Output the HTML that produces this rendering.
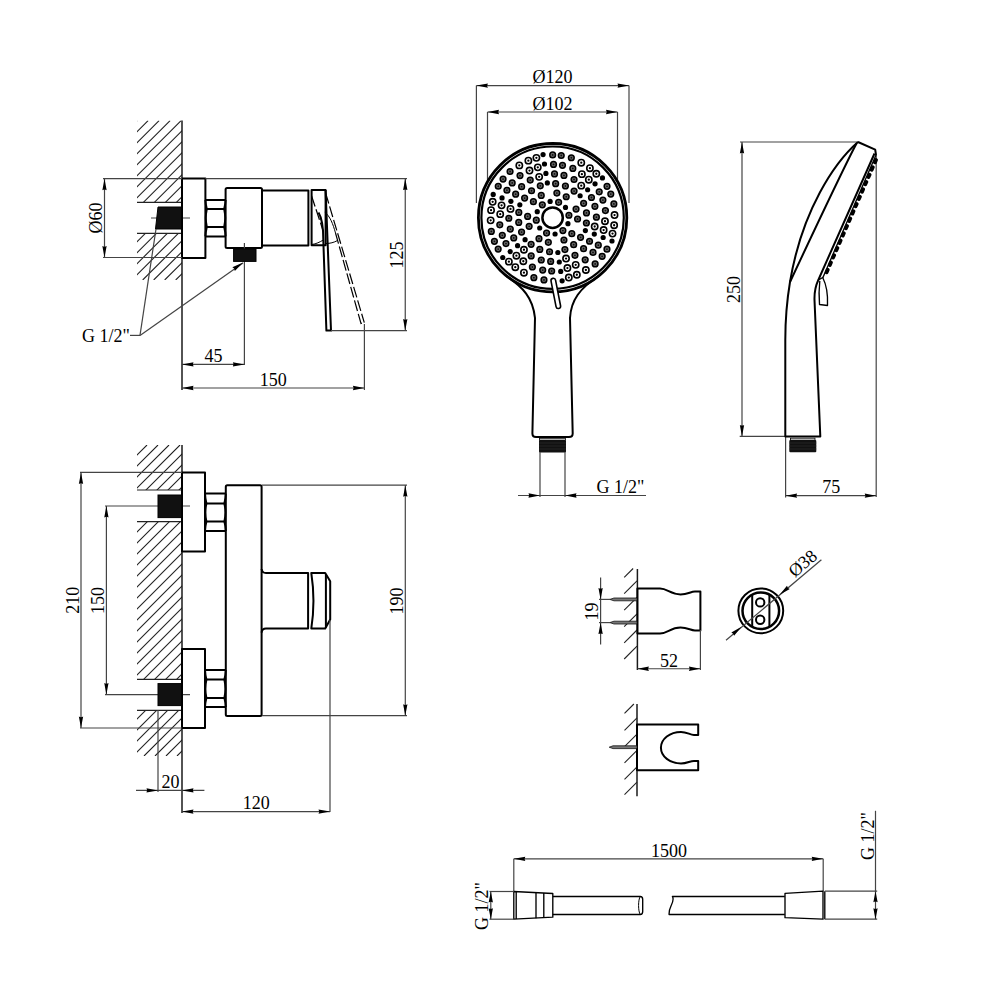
<!DOCTYPE html>
<html><head><meta charset="utf-8"><style>
html,body{margin:0;padding:0;background:#fff;width:1000px;height:1000px;overflow:hidden}
svg{display:block}
text{font-family:"Liberation Serif",serif;font-size:18px;fill:#000}
.d{stroke:#444;stroke-width:1.2;fill:none}
.w{stroke:#1a1a1a;stroke-width:1.5;fill:none}
.h{stroke:#222;stroke-width:1.1;fill:none}
.o{stroke:#000;stroke-width:2;fill:none;stroke-linejoin:round}
.o2{stroke:#000;stroke-width:1.35;fill:none;stroke-linejoin:round}
.thin{stroke:#000;stroke-width:1;fill:none}
.ds{stroke:#000;stroke-width:1.2;fill:none;stroke-dasharray:11 3}
.k{fill:#111;stroke:#000;stroke-width:1}
.a{fill:#000;stroke:none}
</style></head>
<body><svg width="1000" height="1000" viewBox="0 0 1000 1000">
<clipPath id="h1"><rect x="137" y="120.6" width="45" height="81.8"/><rect x="137" y="233.4" width="45" height="46.6"/></clipPath>
<path class="h" clip-path="url(#h1)" d="M-22.3,280L137.1,120.6M-11.3,280L148.1,120.6M-0.3,280L159.1,120.6M10.7,280L170.1,120.6M21.7,280L181.1,120.6M32.7,280L192.1,120.6M43.7,280L203.1,120.6M54.7,280L214.1,120.6M65.7,280L225.1,120.6M76.7,280L236.1,120.6M87.7,280L247.1,120.6M98.7,280L258.1,120.6M109.7,280L269.1,120.6M120.7,280L280.1,120.6M131.7,280L291.1,120.6M142.7,280L302.1,120.6M153.7,280L313.1,120.6M164.7,280L324.1,120.6M175.7,280L335.1,120.6"/>
<line class="h" x1="137" y1="202.4" x2="182" y2="202.4"/>
<line class="h" x1="137" y1="233.4" x2="182" y2="233.4"/>
<line class="w" x1="182" y1="120.5" x2="182" y2="390"/>
<line class="d" x1="151" y1="218" x2="190" y2="218"/>
<path class="k" d="M158,207 L182,207 L182,229 L155.5,229 Z"/>
<rect class="o" x="182" y="178.4" width="23.4" height="79.6"/>
<path class="o" d="M205.4,200 L225.6,200 M205.4,209 L225.6,209 M205.4,227 L225.6,227 M205.4,236.4 L225.6,236.4"/>
<path class="o" d="M205.4,200 Q205.6,204.5 206.8,209 Q204.8,218 206.8,227 Q205.6,231.7 205.4,236.4"/>
<path class="o" d="M225.6,200 Q225.4,204.5 224.2,209 Q226.2,218 224.2,227 Q225.4,231.7 225.6,236.4"/>
<rect class="o" x="225.6" y="188" width="36.4" height="60" rx="1.5"/>
<rect class="o" x="262" y="190.6" width="46.4" height="55"/>
<rect class="o" x="311.6" y="190" width="14" height="55.2"/>
<line class="d" x1="244.4" y1="243" x2="244.4" y2="365"/>
<rect class="k" x="233.6" y="249" width="22.4" height="12.4"/>
<path class="o" d="M325.6,190 L331,330.6 L326.4,330.6 L323.3,240 C323.3,228 322,218 318.5,212.5"/>
<path class="ds" d="M325.6,193 L364.3,322.6"/>
<path class="ds" d="M335.5,233 L361,323.5 L364.3,322.6"/>
<path class="thin" d="M324.8,212.4 C330,216 333,224 335.5,233"/>
<path class="ds" d="M311.6,196 L323.2,231"/>
<path class="thin" d="M311.8,244.5 C316,244 320,242 323.3,240"/>
<path class="thin" d="M326,243.5 C330,243.5 334,242.5 337.5,240.5"/>
<line class="d" x1="103" y1="178.6" x2="182" y2="178.6"/>
<line class="d" x1="205.4" y1="178.6" x2="407" y2="178.6"/>
<line class="d" x1="103" y1="257.5" x2="182" y2="257.5"/>
<line class="d" x1="104.5" y1="178.8" x2="104.5" y2="257.5"/>
<path class="a" d="M104.5,178.8 L106.65,190.3 Q104.5,188.92 102.35,190.3 Z"/>
<path class="a" d="M104.5,257.5 L102.35,246 Q104.5,247.38 106.65,246 Z"/>
<text transform="translate(101.7,218) rotate(-90)" x="0" y="0" text-anchor="middle">Ø60</text>
<line class="d" x1="405.25" y1="178.6" x2="405.25" y2="330.6"/>
<path class="a" d="M405.25,178.6 L407.4,190.1 Q405.25,188.72 403.1,190.1 Z"/>
<path class="a" d="M405.25,330.6 L403.1,319.1 Q405.25,320.48 407.4,319.1 Z"/>
<line class="d" x1="331" y1="330.6" x2="407" y2="330.6"/>
<text transform="translate(402.5,255) rotate(-90)" x="0" y="0" text-anchor="middle">125</text>
<line class="d" x1="130" y1="335.4" x2="140" y2="335.4"/>
<line class="d" x1="140" y1="335.4" x2="156" y2="229"/>
<line class="d" x1="140" y1="335.4" x2="243" y2="263"/>
<path class="a" d="M243,262.5 L234.83,270.88 Q234.72,268.32 232.36,267.36 Z"/>
<text x="82" y="342.2" text-anchor="start">G 1/2"</text>
<line class="d" x1="182" y1="364.4" x2="244.4" y2="364.4"/>
<path class="a" d="M182,364.4 L193.5,362.25 Q192.12,364.4 193.5,366.55 Z"/>
<path class="a" d="M244.4,364.4 L232.9,366.55 Q234.28,364.4 232.9,362.25 Z"/>
<text x="213.4" y="362.2" text-anchor="middle">45</text>
<line class="d" x1="182" y1="388" x2="364.4" y2="388"/>
<path class="a" d="M182,388 L193.5,385.85 Q192.12,388 193.5,390.15 Z"/>
<path class="a" d="M364.4,388 L352.9,390.15 Q354.28,388 352.9,385.85 Z"/>
<line class="d" x1="364.4" y1="324" x2="364.4" y2="390"/>
<text x="273.3" y="386.3" text-anchor="middle">150</text>
<clipPath id="h2"><rect x="137" y="445" width="45" height="45"/><rect x="137" y="521.6" width="45" height="157.8"/><rect x="137" y="710.4" width="45" height="45.6"/></clipPath>
<path class="h" clip-path="url(#h2)" d="M-164,756L147,445M-153,756L158,445M-142,756L169,445M-131,756L180,445M-120,756L191,445M-109,756L202,445M-98,756L213,445M-87,756L224,445M-76,756L235,445M-65,756L246,445M-54,756L257,445M-43,756L268,445M-32,756L279,445M-21,756L290,445M-10,756L301,445M1,756L312,445M12,756L323,445M23,756L334,445M34,756L345,445M45,756L356,445M56,756L367,445M67,756L378,445M78,756L389,445M89,756L400,445M100,756L411,445M111,756L422,445M122,756L433,445M133,756L444,445M144,756L455,445M155,756L466,445M166,756L477,445M177,756L488,445"/>
<line class="h" x1="137" y1="490" x2="182" y2="490"/>
<line class="h" x1="137" y1="521.6" x2="182" y2="521.6"/>
<line class="h" x1="137" y1="679.4" x2="182" y2="679.4"/>
<line class="h" x1="137" y1="710.4" x2="182" y2="710.4"/>
<line class="w" x1="182" y1="445" x2="182" y2="813"/>
<line class="d" x1="105" y1="506" x2="190" y2="506"/>
<rect class="k" x="158" y="495" width="24" height="22.6"/>
<rect class="o" x="182" y="472.4" width="23" height="79.2"/>
<path class="o" d="M205,493.6 L225.8,493.6 M205,503.6 L225.8,503.6 M205,521.6 L225.8,521.6 M205,531 L225.8,531"/>
<path class="o" d="M205,493.6 Q205.2,498.6 206.4,503.6 Q204.4,512.6 206.4,521.6 Q205.2,526.3 205,531"/>
<path class="o" d="M225.8,493.6 Q225.6,498.6 224.4,503.6 Q226.4,512.6 224.4,521.6 Q225.6,526.3 225.8,531"/>
<line class="d" x1="105" y1="694.6" x2="190" y2="694.6"/>
<rect class="k" x="158" y="683.6" width="24" height="22"/>
<rect class="o" x="182" y="649" width="23" height="79"/>
<path class="o" d="M205,670 L225.8,670 M205,679.6 L225.8,679.6 M205,698 L225.8,698 M205,707 L225.8,707"/>
<path class="o" d="M205,670 Q205.2,674.8 206.4,679.6 Q204.4,688.8 206.4,698 Q205.2,702.5 205,707"/>
<path class="o" d="M225.8,670 Q225.6,674.8 224.4,679.6 Q226.4,688.8 224.4,698 Q225.6,702.5 225.8,707"/>
<rect class="o" x="225.8" y="485.2" width="35.8" height="230.8" rx="1.5"/>
<path class="o" d="M261.6,569 Q262,573 266,573 L308.1,573 L308.1,628.6 L266,628.6 Q262,628.6 261.6,632.6"/>
<path class="o" d="M311.3,573 L325.2,573 L330.2,581.2 L330.2,619.4 L325.2,628.6 L311.3,628.6 Q315.6,600.8 311.3,573 Z"/>
<line class="o" x1="325.9" y1="574" x2="325.9" y2="627.6"/>
<line class="d" x1="330" y1="620" x2="330" y2="812"/>
<line class="d" x1="80" y1="472.4" x2="182" y2="472.4"/>
<line class="d" x1="80" y1="728" x2="182" y2="728"/>
<line class="d" x1="81" y1="472.4" x2="81" y2="728"/>
<path class="a" d="M81,472.4 L83.15,483.9 Q81,482.52 78.85,483.9 Z"/>
<path class="a" d="M81,728 L78.85,716.5 Q81,717.88 83.15,716.5 Z"/>
<text transform="translate(78.7,600.3) rotate(-90)" x="0" y="0" text-anchor="middle">210</text>
<line class="d" x1="106.4" y1="506" x2="106.4" y2="694.6"/>
<path class="a" d="M106.4,506 L108.55,517.5 Q106.4,516.12 104.25,517.5 Z"/>
<path class="a" d="M106.4,694.6 L104.25,683.1 Q106.4,684.48 108.55,683.1 Z"/>
<text transform="translate(103.9,600.5) rotate(-90)" x="0" y="0" text-anchor="middle">150</text>
<line class="d" x1="262" y1="485.2" x2="407" y2="485.2"/>
<line class="d" x1="262" y1="715.7" x2="407" y2="715.7"/>
<line class="d" x1="405.3" y1="485.2" x2="405.3" y2="715.7"/>
<path class="a" d="M405.3,485.2 L407.45,496.7 Q405.3,495.32 403.15,496.7 Z"/>
<path class="a" d="M405.3,715.7 L403.15,704.2 Q405.3,705.58 407.45,704.2 Z"/>
<text transform="translate(403,600.9) rotate(-90)" x="0" y="0" text-anchor="middle">190</text>
<line class="d" x1="158" y1="710" x2="158" y2="792"/>
<line class="d" x1="136" y1="790.4" x2="204.4" y2="790.4"/>
<path class="a" d="M158,790.4 L146.5,792.55 Q147.88,790.4 146.5,788.25 Z"/>
<path class="a" d="M182,790.4 L193.5,788.25 Q192.12,790.4 193.5,792.55 Z"/>
<text x="170.6" y="788.1" text-anchor="middle">20</text>
<line class="d" x1="182" y1="811.6" x2="330" y2="811.6"/>
<path class="a" d="M182,811.6 L193.5,809.45 Q192.12,811.6 193.5,813.75 Z"/>
<path class="a" d="M330,811.6 L318.5,813.75 Q319.88,811.6 318.5,809.45 Z"/>
<text x="256.3" y="809.1" text-anchor="middle">120</text>
<line class="d" x1="476.4" y1="85.6" x2="476.4" y2="203"/>
<line class="d" x1="629" y1="85.6" x2="629" y2="203"/>
<line class="d" x1="476.4" y1="85.6" x2="629" y2="85.6"/>
<path class="a" d="M476.4,85.6 L487.9,83.45 Q486.52,85.6 487.9,87.75 Z"/>
<path class="a" d="M629,85.6 L617.5,87.75 Q618.88,85.6 617.5,83.45 Z"/>
<text x="552.5" y="83.3" text-anchor="middle">Ø120</text>
<line class="d" x1="487.5" y1="112" x2="487.5" y2="207"/>
<line class="d" x1="617.5" y1="112" x2="617.5" y2="207"/>
<line class="d" x1="487.5" y1="112" x2="617.5" y2="112"/>
<path class="a" d="M487.5,112 L499,109.85 Q497.62,112 499,114.15 Z"/>
<path class="a" d="M617.5,112 L606,114.15 Q607.38,112 606,109.85 Z"/>
<text x="552.5" y="109.8" text-anchor="middle">Ø102</text>
<circle class="o" cx="552.6" cy="217.7" r="74.2" style="stroke-width:2.8;fill:#fff"/>
<circle class="o" cx="552.6" cy="217.7" r="71.2" style="stroke-width:2.2"/>
<path class="o" d="M506,276 C523,287 533,298 535,318 L532.4,433.5 Q532.4,437 536,437 L569,437 Q572.7,437 572.7,433.5 L570,318 C571,300 580,288 599,276"/>
<circle cx="550.13" cy="201.39" r="2.6" fill="#000"/>
<circle cx="542.31" cy="204.8" r="2.85" fill="#666" stroke="#000" stroke-width="1.5"/><circle cx="542.31" cy="204.8" r="0.9" fill="#111"/>
<circle cx="565.5" cy="207.41" r="2.6" fill="#000"/>
<circle cx="558.62" cy="202.34" r="2.85" fill="#666" stroke="#000" stroke-width="1.5"/><circle cx="558.62" cy="202.34" r="0.9" fill="#111"/>
<circle cx="567.96" cy="223.72" r="2.6" fill="#000"/>
<circle cx="568.91" cy="215.23" r="2.85" fill="#666" stroke="#000" stroke-width="1.5"/><circle cx="568.91" cy="215.23" r="0.9" fill="#111"/>
<circle cx="555.07" cy="234.01" r="2.6" fill="#000"/>
<circle cx="562.89" cy="230.6" r="2.85" fill="#666" stroke="#000" stroke-width="1.5"/><circle cx="562.89" cy="230.6" r="0.9" fill="#111"/>
<circle cx="539.7" cy="227.99" r="2.6" fill="#000"/>
<circle cx="546.58" cy="233.06" r="2.85" fill="#666" stroke="#000" stroke-width="1.5"/><circle cx="546.58" cy="233.06" r="0.9" fill="#111"/>
<circle cx="537.24" cy="211.68" r="2.6" fill="#000"/>
<circle cx="536.29" cy="220.17" r="2.85" fill="#666" stroke="#000" stroke-width="1.5"/><circle cx="536.29" cy="220.17" r="0.9" fill="#111"/>
<circle cx="556.86" cy="193.06" r="2.85" fill="#666" stroke="#000" stroke-width="1.5"/><circle cx="556.86" cy="193.06" r="0.9" fill="#111"/>
<circle cx="566.22" cy="196.73" r="2.85" fill="#666" stroke="#000" stroke-width="1.5"/><circle cx="566.22" cy="196.73" r="0.9" fill="#111"/>
<circle cx="576.06" cy="209.07" r="2.85" fill="#666" stroke="#000" stroke-width="1.5"/><circle cx="576.06" cy="209.07" r="0.9" fill="#111"/>
<circle cx="577.57" cy="219.01" r="2.85" fill="#666" stroke="#000" stroke-width="1.5"/><circle cx="577.57" cy="219.01" r="0.9" fill="#111"/>
<circle cx="571.81" cy="233.7" r="2.85" fill="#666" stroke="#000" stroke-width="1.5"/><circle cx="571.81" cy="233.7" r="0.9" fill="#111"/>
<circle cx="563.95" cy="239.98" r="2.85" fill="#666" stroke="#000" stroke-width="1.5"/><circle cx="563.95" cy="239.98" r="0.9" fill="#111"/>
<circle cx="548.34" cy="242.34" r="2.85" fill="#666" stroke="#000" stroke-width="1.5"/><circle cx="548.34" cy="242.34" r="0.9" fill="#111"/>
<circle cx="538.98" cy="238.67" r="2.85" fill="#666" stroke="#000" stroke-width="1.5"/><circle cx="538.98" cy="238.67" r="0.9" fill="#111"/>
<circle cx="529.14" cy="226.33" r="2.85" fill="#666" stroke="#000" stroke-width="1.5"/><circle cx="529.14" cy="226.33" r="0.9" fill="#111"/>
<circle cx="527.63" cy="216.39" r="2.85" fill="#666" stroke="#000" stroke-width="1.5"/><circle cx="527.63" cy="216.39" r="0.9" fill="#111"/>
<circle cx="533.39" cy="201.7" r="2.85" fill="#666" stroke="#000" stroke-width="1.5"/><circle cx="533.39" cy="201.7" r="0.9" fill="#111"/>
<circle cx="541.25" cy="195.42" r="2.85" fill="#666" stroke="#000" stroke-width="1.5"/><circle cx="541.25" cy="195.42" r="0.9" fill="#111"/>
<circle cx="547.34" cy="182.9" r="2.6" fill="#000"/>
<circle cx="540.29" cy="185.79" r="2.85" fill="#666" stroke="#000" stroke-width="1.5"/><circle cx="540.29" cy="185.79" r="0.9" fill="#111"/>
<circle cx="531.54" cy="190.75" r="2.85" fill="#666" stroke="#000" stroke-width="1.5"/><circle cx="531.54" cy="190.75" r="0.9" fill="#111"/>
<circle cx="524.62" cy="198.03" r="2.85" fill="#666" stroke="#000" stroke-width="1.5"/><circle cx="524.62" cy="198.03" r="0.9" fill="#111"/>
<circle cx="580.11" cy="195.74" r="2.6" fill="#000"/>
<circle cx="574.07" cy="191.08" r="2.85" fill="#666" stroke="#000" stroke-width="1.5"/><circle cx="574.07" cy="191.08" r="0.9" fill="#111"/>
<circle cx="565.41" cy="185.99" r="2.85" fill="#666" stroke="#000" stroke-width="1.5"/><circle cx="565.41" cy="185.99" r="0.9" fill="#111"/>
<circle cx="555.64" cy="183.64" r="2.85" fill="#666" stroke="#000" stroke-width="1.5"/><circle cx="555.64" cy="183.64" r="0.9" fill="#111"/>
<circle cx="585.37" cy="230.54" r="2.6" fill="#000"/>
<circle cx="586.39" cy="222.99" r="2.85" fill="#666" stroke="#000" stroke-width="1.5"/><circle cx="586.39" cy="222.99" r="0.9" fill="#111"/>
<circle cx="586.47" cy="212.94" r="2.85" fill="#666" stroke="#000" stroke-width="1.5"/><circle cx="586.47" cy="212.94" r="0.9" fill="#111"/>
<circle cx="583.62" cy="203.3" r="2.85" fill="#666" stroke="#000" stroke-width="1.5"/><circle cx="583.62" cy="203.3" r="0.9" fill="#111"/>
<circle cx="557.86" cy="252.5" r="2.6" fill="#000"/>
<circle cx="564.91" cy="249.61" r="2.85" fill="#666" stroke="#000" stroke-width="1.5"/><circle cx="564.91" cy="249.61" r="0.9" fill="#111"/>
<circle cx="573.66" cy="244.65" r="2.85" fill="#666" stroke="#000" stroke-width="1.5"/><circle cx="573.66" cy="244.65" r="0.9" fill="#111"/>
<circle cx="580.58" cy="237.37" r="2.85" fill="#666" stroke="#000" stroke-width="1.5"/><circle cx="580.58" cy="237.37" r="0.9" fill="#111"/>
<circle cx="525.09" cy="239.66" r="2.6" fill="#000"/>
<circle cx="531.13" cy="244.32" r="2.85" fill="#666" stroke="#000" stroke-width="1.5"/><circle cx="531.13" cy="244.32" r="0.9" fill="#111"/>
<circle cx="539.79" cy="249.41" r="2.85" fill="#666" stroke="#000" stroke-width="1.5"/><circle cx="539.79" cy="249.41" r="0.9" fill="#111"/>
<circle cx="549.56" cy="251.76" r="2.85" fill="#666" stroke="#000" stroke-width="1.5"/><circle cx="549.56" cy="251.76" r="0.9" fill="#111"/>
<circle cx="519.83" cy="204.86" r="2.6" fill="#000"/>
<circle cx="518.81" cy="212.41" r="2.85" fill="#666" stroke="#000" stroke-width="1.5"/><circle cx="518.81" cy="212.41" r="0.9" fill="#111"/>
<circle cx="518.73" cy="222.46" r="2.85" fill="#666" stroke="#000" stroke-width="1.5"/><circle cx="518.73" cy="222.46" r="0.9" fill="#111"/>
<circle cx="521.58" cy="232.1" r="2.85" fill="#666" stroke="#000" stroke-width="1.5"/><circle cx="521.58" cy="232.1" r="0.9" fill="#111"/>
<circle cx="545.9" cy="173.4" r="2.6" fill="#000"/>
<circle cx="539.16" cy="176.85" r="3.15" fill="#fff" stroke="#000" stroke-width="1.6"/><circle cx="539.16" cy="176.85" r="1.15" fill="#000"/>
<circle cx="530.23" cy="180.04" r="2.85" fill="#666" stroke="#000" stroke-width="1.5"/><circle cx="530.23" cy="180.04" r="0.9" fill="#111"/>
<circle cx="521.63" cy="186.72" r="2.85" fill="#666" stroke="#000" stroke-width="1.5"/><circle cx="521.63" cy="186.72" r="0.9" fill="#111"/>
<circle cx="515.66" cy="194.16" r="2.85" fill="#666" stroke="#000" stroke-width="1.5"/><circle cx="515.66" cy="194.16" r="0.9" fill="#111"/>
<circle cx="587.61" cy="189.75" r="2.6" fill="#000"/>
<circle cx="581.25" cy="185.64" r="3.15" fill="#fff" stroke="#000" stroke-width="1.6"/><circle cx="581.25" cy="185.64" r="1.15" fill="#000"/>
<circle cx="574.03" cy="179.5" r="2.85" fill="#666" stroke="#000" stroke-width="1.5"/><circle cx="574.03" cy="179.5" r="0.9" fill="#111"/>
<circle cx="563.94" cy="175.39" r="2.85" fill="#666" stroke="#000" stroke-width="1.5"/><circle cx="563.94" cy="175.39" r="0.9" fill="#111"/>
<circle cx="554.52" cy="173.94" r="2.85" fill="#666" stroke="#000" stroke-width="1.5"/><circle cx="554.52" cy="173.94" r="0.9" fill="#111"/>
<circle cx="594.31" cy="234.05" r="2.6" fill="#000"/>
<circle cx="594.69" cy="226.49" r="3.15" fill="#fff" stroke="#000" stroke-width="1.6"/><circle cx="594.69" cy="226.49" r="1.15" fill="#000"/>
<circle cx="596.4" cy="217.16" r="2.85" fill="#666" stroke="#000" stroke-width="1.5"/><circle cx="596.4" cy="217.16" r="0.9" fill="#111"/>
<circle cx="594.91" cy="206.37" r="2.85" fill="#666" stroke="#000" stroke-width="1.5"/><circle cx="594.91" cy="206.37" r="0.9" fill="#111"/>
<circle cx="591.46" cy="197.48" r="2.85" fill="#666" stroke="#000" stroke-width="1.5"/><circle cx="591.46" cy="197.48" r="0.9" fill="#111"/>
<circle cx="559.3" cy="262" r="2.6" fill="#000"/>
<circle cx="566.04" cy="258.55" r="3.15" fill="#fff" stroke="#000" stroke-width="1.6"/><circle cx="566.04" cy="258.55" r="1.15" fill="#000"/>
<circle cx="574.97" cy="255.36" r="2.85" fill="#666" stroke="#000" stroke-width="1.5"/><circle cx="574.97" cy="255.36" r="0.9" fill="#111"/>
<circle cx="583.57" cy="248.68" r="2.85" fill="#666" stroke="#000" stroke-width="1.5"/><circle cx="583.57" cy="248.68" r="0.9" fill="#111"/>
<circle cx="589.54" cy="241.24" r="2.85" fill="#666" stroke="#000" stroke-width="1.5"/><circle cx="589.54" cy="241.24" r="0.9" fill="#111"/>
<circle cx="517.59" cy="245.65" r="2.6" fill="#000"/>
<circle cx="523.95" cy="249.76" r="3.15" fill="#fff" stroke="#000" stroke-width="1.6"/><circle cx="523.95" cy="249.76" r="1.15" fill="#000"/>
<circle cx="531.17" cy="255.9" r="2.85" fill="#666" stroke="#000" stroke-width="1.5"/><circle cx="531.17" cy="255.9" r="0.9" fill="#111"/>
<circle cx="541.26" cy="260.01" r="2.85" fill="#666" stroke="#000" stroke-width="1.5"/><circle cx="541.26" cy="260.01" r="0.9" fill="#111"/>
<circle cx="550.68" cy="261.46" r="2.85" fill="#666" stroke="#000" stroke-width="1.5"/><circle cx="550.68" cy="261.46" r="0.9" fill="#111"/>
<circle cx="510.89" cy="201.35" r="2.6" fill="#000"/>
<circle cx="510.51" cy="208.91" r="3.15" fill="#fff" stroke="#000" stroke-width="1.6"/><circle cx="510.51" cy="208.91" r="1.15" fill="#000"/>
<circle cx="508.8" cy="218.24" r="2.85" fill="#666" stroke="#000" stroke-width="1.5"/><circle cx="508.8" cy="218.24" r="0.9" fill="#111"/>
<circle cx="510.29" cy="229.03" r="2.85" fill="#666" stroke="#000" stroke-width="1.5"/><circle cx="510.29" cy="229.03" r="0.9" fill="#111"/>
<circle cx="513.74" cy="237.92" r="2.85" fill="#666" stroke="#000" stroke-width="1.5"/><circle cx="513.74" cy="237.92" r="0.9" fill="#111"/>
<circle cx="544.48" cy="164.01" r="2.6" fill="#000"/>
<circle cx="537.78" cy="167.34" r="3.15" fill="#fff" stroke="#000" stroke-width="1.6"/><circle cx="537.78" cy="167.34" r="1.15" fill="#000"/>
<circle cx="529.5" cy="170.55" r="3.15" fill="#fff" stroke="#000" stroke-width="1.6"/><circle cx="529.5" cy="170.55" r="1.15" fill="#000"/>
<circle cx="520.01" cy="175.53" r="2.85" fill="#666" stroke="#000" stroke-width="1.5"/><circle cx="520.01" cy="175.53" r="0.9" fill="#111"/>
<circle cx="512.19" cy="182.94" r="2.85" fill="#666" stroke="#000" stroke-width="1.5"/><circle cx="512.19" cy="182.94" r="0.9" fill="#111"/>
<circle cx="506.91" cy="190.25" r="2.85" fill="#666" stroke="#000" stroke-width="1.5"/><circle cx="506.91" cy="190.25" r="0.9" fill="#111"/>
<circle cx="595.04" cy="183.82" r="2.6" fill="#000"/>
<circle cx="588.81" cy="179.68" r="3.15" fill="#fff" stroke="#000" stroke-width="1.6"/><circle cx="588.81" cy="179.68" r="1.15" fill="#000"/>
<circle cx="581.88" cy="174.13" r="3.15" fill="#fff" stroke="#000" stroke-width="1.6"/><circle cx="581.88" cy="174.13" r="1.15" fill="#000"/>
<circle cx="572.83" cy="168.39" r="2.85" fill="#666" stroke="#000" stroke-width="1.5"/><circle cx="572.83" cy="168.39" r="0.9" fill="#111"/>
<circle cx="562.49" cy="165.33" r="2.85" fill="#666" stroke="#000" stroke-width="1.5"/><circle cx="562.49" cy="165.33" r="0.9" fill="#111"/>
<circle cx="553.53" cy="164.41" r="2.85" fill="#666" stroke="#000" stroke-width="1.5"/><circle cx="553.53" cy="164.41" r="0.9" fill="#111"/>
<circle cx="603.16" cy="237.51" r="2.6" fill="#000"/>
<circle cx="603.63" cy="230.05" r="3.15" fill="#fff" stroke="#000" stroke-width="1.6"/><circle cx="603.63" cy="230.05" r="1.15" fill="#000"/>
<circle cx="604.98" cy="221.27" r="3.15" fill="#fff" stroke="#000" stroke-width="1.6"/><circle cx="604.98" cy="221.27" r="1.15" fill="#000"/>
<circle cx="605.42" cy="210.56" r="2.85" fill="#666" stroke="#000" stroke-width="1.5"/><circle cx="605.42" cy="210.56" r="0.9" fill="#111"/>
<circle cx="602.9" cy="200.08" r="2.85" fill="#666" stroke="#000" stroke-width="1.5"/><circle cx="602.9" cy="200.08" r="0.9" fill="#111"/>
<circle cx="599.22" cy="191.86" r="2.85" fill="#666" stroke="#000" stroke-width="1.5"/><circle cx="599.22" cy="191.86" r="0.9" fill="#111"/>
<circle cx="560.72" cy="271.39" r="2.6" fill="#000"/>
<circle cx="567.42" cy="268.06" r="3.15" fill="#fff" stroke="#000" stroke-width="1.6"/><circle cx="567.42" cy="268.06" r="1.15" fill="#000"/>
<circle cx="575.7" cy="264.85" r="3.15" fill="#fff" stroke="#000" stroke-width="1.6"/><circle cx="575.7" cy="264.85" r="1.15" fill="#000"/>
<circle cx="585.19" cy="259.87" r="2.85" fill="#666" stroke="#000" stroke-width="1.5"/><circle cx="585.19" cy="259.87" r="0.9" fill="#111"/>
<circle cx="593.01" cy="252.46" r="2.85" fill="#666" stroke="#000" stroke-width="1.5"/><circle cx="593.01" cy="252.46" r="0.9" fill="#111"/>
<circle cx="598.29" cy="245.15" r="2.85" fill="#666" stroke="#000" stroke-width="1.5"/><circle cx="598.29" cy="245.15" r="0.9" fill="#111"/>
<circle cx="510.16" cy="251.58" r="2.6" fill="#000"/>
<circle cx="516.39" cy="255.72" r="3.15" fill="#fff" stroke="#000" stroke-width="1.6"/><circle cx="516.39" cy="255.72" r="1.15" fill="#000"/>
<circle cx="523.32" cy="261.27" r="3.15" fill="#fff" stroke="#000" stroke-width="1.6"/><circle cx="523.32" cy="261.27" r="1.15" fill="#000"/>
<circle cx="532.37" cy="267.01" r="2.85" fill="#666" stroke="#000" stroke-width="1.5"/><circle cx="532.37" cy="267.01" r="0.9" fill="#111"/>
<circle cx="542.71" cy="270.07" r="2.85" fill="#666" stroke="#000" stroke-width="1.5"/><circle cx="542.71" cy="270.07" r="0.9" fill="#111"/>
<circle cx="551.67" cy="270.99" r="2.85" fill="#666" stroke="#000" stroke-width="1.5"/><circle cx="551.67" cy="270.99" r="0.9" fill="#111"/>
<circle cx="502.04" cy="197.89" r="2.6" fill="#000"/>
<circle cx="501.57" cy="205.35" r="3.15" fill="#fff" stroke="#000" stroke-width="1.6"/><circle cx="501.57" cy="205.35" r="1.15" fill="#000"/>
<circle cx="500.22" cy="214.13" r="3.15" fill="#fff" stroke="#000" stroke-width="1.6"/><circle cx="500.22" cy="214.13" r="1.15" fill="#000"/>
<circle cx="499.78" cy="224.84" r="2.85" fill="#666" stroke="#000" stroke-width="1.5"/><circle cx="499.78" cy="224.84" r="0.9" fill="#111"/>
<circle cx="502.3" cy="235.32" r="2.85" fill="#666" stroke="#000" stroke-width="1.5"/><circle cx="502.3" cy="235.32" r="0.9" fill="#111"/>
<circle cx="505.98" cy="243.54" r="2.85" fill="#666" stroke="#000" stroke-width="1.5"/><circle cx="505.98" cy="243.54" r="0.9" fill="#111"/>
<circle cx="543.06" cy="154.62" r="2.6" fill="#000"/>
<circle cx="536.39" cy="157.86" r="3.15" fill="#fff" stroke="#000" stroke-width="1.6"/><circle cx="536.39" cy="157.86" r="1.15" fill="#000"/>
<circle cx="528.37" cy="160.63" r="3.15" fill="#fff" stroke="#000" stroke-width="1.6"/><circle cx="528.37" cy="160.63" r="1.15" fill="#000"/>
<circle cx="519.32" cy="165.39" r="3.15" fill="#fff" stroke="#000" stroke-width="1.6"/><circle cx="519.32" cy="165.39" r="1.15" fill="#000"/>
<circle cx="510.06" cy="171.5" r="2.85" fill="#666" stroke="#000" stroke-width="1.5"/><circle cx="510.06" cy="171.5" r="0.9" fill="#111"/>
<circle cx="503.05" cy="179.12" r="2.85" fill="#666" stroke="#000" stroke-width="1.5"/><circle cx="503.05" cy="179.12" r="0.9" fill="#111"/>
<circle cx="498.24" cy="186.25" r="2.85" fill="#666" stroke="#000" stroke-width="1.5"/><circle cx="498.24" cy="186.25" r="0.9" fill="#111"/>
<circle cx="602.46" cy="177.9" r="2.6" fill="#000"/>
<circle cx="596.32" cy="173.74" r="3.15" fill="#fff" stroke="#000" stroke-width="1.6"/><circle cx="596.32" cy="173.74" r="1.15" fill="#000"/>
<circle cx="589.91" cy="168.18" r="3.15" fill="#fff" stroke="#000" stroke-width="1.6"/><circle cx="589.91" cy="168.18" r="1.15" fill="#000"/>
<circle cx="581.27" cy="162.72" r="3.15" fill="#fff" stroke="#000" stroke-width="1.6"/><circle cx="581.27" cy="162.72" r="1.15" fill="#000"/>
<circle cx="571.34" cy="157.76" r="2.85" fill="#666" stroke="#000" stroke-width="1.5"/><circle cx="571.34" cy="157.76" r="0.9" fill="#111"/>
<circle cx="561.23" cy="155.5" r="2.85" fill="#666" stroke="#000" stroke-width="1.5"/><circle cx="561.23" cy="155.5" r="0.9" fill="#111"/>
<circle cx="552.66" cy="154.9" r="2.85" fill="#666" stroke="#000" stroke-width="1.5"/><circle cx="552.66" cy="154.9" r="0.9" fill="#111"/>
<circle cx="612" cy="240.98" r="2.6" fill="#000"/>
<circle cx="612.53" cy="233.59" r="3.15" fill="#fff" stroke="#000" stroke-width="1.6"/><circle cx="612.53" cy="233.59" r="1.15" fill="#000"/>
<circle cx="614.14" cy="225.25" r="3.15" fill="#fff" stroke="#000" stroke-width="1.6"/><circle cx="614.14" cy="225.25" r="1.15" fill="#000"/>
<circle cx="614.54" cy="215.04" r="3.15" fill="#fff" stroke="#000" stroke-width="1.6"/><circle cx="614.54" cy="215.04" r="1.15" fill="#000"/>
<circle cx="613.88" cy="203.96" r="2.85" fill="#666" stroke="#000" stroke-width="1.5"/><circle cx="613.88" cy="203.96" r="0.9" fill="#111"/>
<circle cx="610.79" cy="194.07" r="2.85" fill="#666" stroke="#000" stroke-width="1.5"/><circle cx="610.79" cy="194.07" r="0.9" fill="#111"/>
<circle cx="607.02" cy="186.35" r="2.85" fill="#666" stroke="#000" stroke-width="1.5"/><circle cx="607.02" cy="186.35" r="0.9" fill="#111"/>
<circle cx="562.14" cy="280.78" r="2.6" fill="#000"/>
<circle cx="568.81" cy="277.54" r="3.15" fill="#fff" stroke="#000" stroke-width="1.6"/><circle cx="568.81" cy="277.54" r="1.15" fill="#000"/>
<circle cx="576.83" cy="274.77" r="3.15" fill="#fff" stroke="#000" stroke-width="1.6"/><circle cx="576.83" cy="274.77" r="1.15" fill="#000"/>
<circle cx="585.88" cy="270.01" r="3.15" fill="#fff" stroke="#000" stroke-width="1.6"/><circle cx="585.88" cy="270.01" r="1.15" fill="#000"/>
<circle cx="595.14" cy="263.9" r="2.85" fill="#666" stroke="#000" stroke-width="1.5"/><circle cx="595.14" cy="263.9" r="0.9" fill="#111"/>
<circle cx="602.15" cy="256.28" r="2.85" fill="#666" stroke="#000" stroke-width="1.5"/><circle cx="602.15" cy="256.28" r="0.9" fill="#111"/>
<circle cx="606.96" cy="249.15" r="2.85" fill="#666" stroke="#000" stroke-width="1.5"/><circle cx="606.96" cy="249.15" r="0.9" fill="#111"/>
<circle cx="502.74" cy="257.5" r="2.6" fill="#000"/>
<circle cx="508.88" cy="261.66" r="3.15" fill="#fff" stroke="#000" stroke-width="1.6"/><circle cx="508.88" cy="261.66" r="1.15" fill="#000"/>
<circle cx="515.29" cy="267.22" r="3.15" fill="#fff" stroke="#000" stroke-width="1.6"/><circle cx="515.29" cy="267.22" r="1.15" fill="#000"/>
<circle cx="523.93" cy="272.68" r="3.15" fill="#fff" stroke="#000" stroke-width="1.6"/><circle cx="523.93" cy="272.68" r="1.15" fill="#000"/>
<circle cx="533.86" cy="277.64" r="2.85" fill="#666" stroke="#000" stroke-width="1.5"/><circle cx="533.86" cy="277.64" r="0.9" fill="#111"/>
<circle cx="543.97" cy="279.9" r="2.85" fill="#666" stroke="#000" stroke-width="1.5"/><circle cx="543.97" cy="279.9" r="0.9" fill="#111"/>
<circle cx="493.2" cy="194.42" r="2.6" fill="#000"/>
<circle cx="492.67" cy="201.81" r="3.15" fill="#fff" stroke="#000" stroke-width="1.6"/><circle cx="492.67" cy="201.81" r="1.15" fill="#000"/>
<circle cx="491.06" cy="210.15" r="3.15" fill="#fff" stroke="#000" stroke-width="1.6"/><circle cx="491.06" cy="210.15" r="1.15" fill="#000"/>
<circle cx="490.66" cy="220.36" r="3.15" fill="#fff" stroke="#000" stroke-width="1.6"/><circle cx="490.66" cy="220.36" r="1.15" fill="#000"/>
<circle cx="491.32" cy="231.44" r="2.85" fill="#666" stroke="#000" stroke-width="1.5"/><circle cx="491.32" cy="231.44" r="0.9" fill="#111"/>
<circle cx="494.41" cy="241.33" r="2.85" fill="#666" stroke="#000" stroke-width="1.5"/><circle cx="494.41" cy="241.33" r="0.9" fill="#111"/>
<circle cx="498.18" cy="249.05" r="2.85" fill="#666" stroke="#000" stroke-width="1.5"/><circle cx="498.18" cy="249.05" r="0.9" fill="#111"/>
<circle class="o" cx="552.6" cy="217.7" r="10.2" style="stroke-width:2.5"/>
<line x1="553.3" y1="280.6" x2="558.3" y2="306.2" stroke="#000" stroke-width="6.2" stroke-linecap="round"/>
<line x1="553.3" y1="280.6" x2="558.3" y2="306.2" stroke="#fff" stroke-width="3" stroke-linecap="round"/>
<rect x="539.6" y="438.3" width="25.8" height="1.8" fill="#fff" stroke="#000" stroke-width="0.8"/>
<rect x="539" y="440" width="27" height="12.4" rx="0.8" fill="#111"/>
<line x1="539" y1="443" x2="566" y2="443" stroke="#333" stroke-width="0.6"/>
<line x1="539" y1="446" x2="566" y2="446" stroke="#333" stroke-width="0.6"/>
<line x1="539" y1="449" x2="566" y2="449" stroke="#333" stroke-width="0.6"/>
<line class="d" x1="540" y1="452" x2="540" y2="497"/>
<line class="d" x1="565" y1="452" x2="565" y2="497"/>
<line class="d" x1="518" y1="495.5" x2="646" y2="495.5"/>
<path class="a" d="M540,495.5 L528.5,497.65 Q529.88,495.5 528.5,493.35 Z"/>
<path class="a" d="M565,495.5 L576.5,493.35 Q575.12,495.5 576.5,497.65 Z"/>
<text x="596.6" y="493.3" text-anchor="start">G 1/2"</text>
<line class="d" x1="740" y1="142" x2="858.8" y2="142"/>
<text transform="translate(739.6,289.6) rotate(-90)" x="0" y="0" text-anchor="middle">250</text>
<line class="d" x1="742" y1="142" x2="742" y2="436.4"/>
<path class="a" d="M742,142 L744.15,153.5 Q742,152.12 739.85,153.5 Z"/>
<path class="a" d="M742,436.4 L739.85,424.9 Q742,426.28 744.15,424.9 Z"/>
<line class="d" x1="739.7" y1="436.4" x2="786" y2="436.4"/>
<line class="d" x1="876.2" y1="154" x2="876.2" y2="497"/>
<line class="d" x1="785.6" y1="437" x2="785.6" y2="497.6"/>
<line class="d" x1="785.6" y1="495.7" x2="876.2" y2="495.7"/>
<path class="a" d="M785.6,495.7 L797.1,493.55 Q795.72,495.7 797.1,497.85 Z"/>
<path class="a" d="M876.2,495.7 L864.7,497.85 Q866.08,495.7 864.7,493.55 Z"/>
<text x="831.2" y="493.4" text-anchor="middle">75</text>
<path class="o" d="M858,142 L875.2,149.7 L876,155"/>
<path class="o" d="M858,142 C835,162 802,210 790,282 C787,300 785.3,320 785.3,340 L785.3,436.4 L820.3,436.4 L814.5,300 C814.3,293 815,287 818.2,280.2 L874.5,153.5"/>
<path class="o" d="M856.5,143.5 C845,165 820,218 790,282"/>
<path class="o2" d="M876,155 L822.7,278"/>
<path d="M876,160 L825,276" stroke="#000" stroke-width="3.8" fill="none" stroke-dasharray="2.6 5.4" stroke-linecap="round"/>
<path class="o2" d="M818.2,280.2 L822.7,277.5 C826,284 828,295 827.5,305.5 L819.5,304.5 C818.8,296 819,288 819.8,281"/>
<rect x="790.6" y="438.2" width="24.4" height="1.9" fill="#fff" stroke="#000" stroke-width="0.8"/>
<rect x="789.3" y="440" width="27" height="12.2" rx="1" fill="#111"/>
<line x1="789.3" y1="443" x2="816.3" y2="443" stroke="#333" stroke-width="0.6"/>
<line x1="789.3" y1="446" x2="816.3" y2="446" stroke="#333" stroke-width="0.6"/>
<line x1="789.3" y1="449" x2="816.3" y2="449" stroke="#333" stroke-width="0.6"/>
<line class="w" x1="637.4" y1="569" x2="637.4" y2="670"/>
<line class="h" x1="624.2" y1="577.4" x2="633.1" y2="568.5"/>
<line class="h" x1="624.2" y1="593.6" x2="637" y2="580.8"/>
<line class="h" x1="624.2" y1="610.2" x2="637" y2="597.4"/>
<line class="h" x1="624.2" y1="626.6" x2="637" y2="613.8"/>
<line class="h" x1="624.2" y1="642.8" x2="637" y2="630"/>
<line class="h" x1="624.2" y1="659" x2="637" y2="646.2"/>
<path class="o" d="M637.4,588.6 L660,588.6 C667.5,588.6 670.5,594.4 680.5,594.4 C688,594.4 690.5,591.6 695,591.6 L700.4,591.6 L700.4,630.4 L695,630.4 C690.5,630.4 688,627.6 680.5,627.6 C670.5,627.6 667.5,633.5 660,633.5 L637.4,633.5 Z"/>
<path d="M609.8,599.4 L614,598 L637,598 L637,600.8 L614,600.8 Z" fill="#777" stroke="#111" stroke-width="0.8"/>
<path d="M609.8,622.6 L614,621.2 L637,621.2 L637,624 L614,624 Z" fill="#777" stroke="#111" stroke-width="0.8"/>
<line class="d" x1="599" y1="599.4" x2="610" y2="599.4"/>
<line class="d" x1="599" y1="622.6" x2="610" y2="622.6"/>
<line class="d" x1="600.6" y1="577.4" x2="600.6" y2="644.6"/>
<path class="a" d="M600.6,599.4 L598.45,587.9 Q600.6,589.28 602.75,587.9 Z"/>
<path class="a" d="M600.6,622.6 L602.75,634.1 Q600.6,632.72 598.45,634.1 Z"/>
<text transform="translate(598.4,611.4) rotate(-90)" x="0" y="0" text-anchor="middle">19</text>
<line class="d" x1="700.4" y1="630" x2="700.4" y2="670"/>
<line class="d" x1="637.4" y1="668.75" x2="700.4" y2="668.75"/>
<path class="a" d="M637.4,668.75 L648.9,666.6 Q647.52,668.75 648.9,670.9 Z"/>
<path class="a" d="M700.4,668.75 L688.9,670.9 Q690.28,668.75 688.9,666.6 Z"/>
<text x="668.9" y="667" text-anchor="middle">52</text>
<circle class="o" cx="760.8" cy="610.8" r="22.4" style="stroke-width:2"/>
<circle class="o" cx="760.8" cy="610.8" r="18.3" style="stroke-width:2.5"/>
<line class="o" x1="752.2" y1="594.6" x2="752.2" y2="627"/>
<line class="o" x1="769.4" y1="594.6" x2="769.4" y2="627"/>
<circle class="o" cx="760.2" cy="602.4" r="4.2" style="stroke-width:2"/>
<circle class="o" cx="760.2" cy="619.8" r="4.2" style="stroke-width:2"/>
<line class="d" x1="726" y1="640.2" x2="821.4" y2="559.8"/>
<path class="a" d="M741.5,626.8 L734.09,635.85 Q733.76,633.32 731.32,632.57 Z"/>
<path class="a" d="M779.6,594.8 L787.01,585.75 Q787.34,588.28 789.78,589.03 Z"/>
<text transform="translate(806.5,568) rotate(-40.12)" x="0" y="0" text-anchor="middle">Ø38</text>
<line class="w" x1="637" y1="704" x2="637" y2="796.3"/>
<line class="h" x1="624.5" y1="713.4" x2="633.9" y2="704"/>
<line class="h" x1="624.5" y1="730.3" x2="637" y2="717.8"/>
<line class="h" x1="624.5" y1="746.6" x2="637" y2="734.1"/>
<line class="h" x1="624.5" y1="762.8" x2="637" y2="750.3"/>
<line class="h" x1="624.5" y1="779.4" x2="637" y2="766.9"/>
<line class="h" x1="624.5" y1="794.7" x2="637" y2="782.2"/>
<path class="o" d="M637,724.5 L698.2,724.5 L698.2,734.9 L694,734.9 C690,734.9 687,731.9 681,731.9 A20.1 15.8 0 0 0 681,763.5 C687,763.5 690,760.9 694,760.9 L698.2,760.9 L698.2,770.2 L637,770.2 Z"/>
<path d="M609.2,747.2 L613,745.8 L637,745.8 L637,748.6 L613,748.6 Z" fill="#777" stroke="#111" stroke-width="0.8"/>
<line class="d" x1="513.8" y1="858.8" x2="513.8" y2="891.5"/>
<line class="d" x1="823.2" y1="858.8" x2="823.2" y2="891.2"/>
<line class="d" x1="513.8" y1="858.8" x2="823.2" y2="858.8"/>
<path class="a" d="M513.8,858.8 L525.3,856.65 Q523.92,858.8 525.3,860.95 Z"/>
<path class="a" d="M823.2,858.8 L811.7,860.95 Q813.08,858.8 811.7,856.65 Z"/>
<text x="669" y="856.8" text-anchor="middle">1500</text>
<path class="o2" d="M513.8,891.5 L552.8,893.5 L552.8,917.2 L513.8,919.2 Z"/>
<line class="o2" x1="516.2" y1="891.6" x2="516.2" y2="919.1"/>
<line class="o2" x1="536" y1="892.6" x2="536" y2="918.2"/>
<line class="o2" x1="543.8" y1="893" x2="543.8" y2="917.8"/>
<path class="o2" d="M552.8,896.5 L640.3,896.5 Q642.7,896.5 642.7,899.5 L642.7,911.5 Q642.7,914.5 640.3,914.5 L552.8,914.5"/>
<path class="thin" d="M640.3,896.5 C638,899.5 638,911.5 640.3,914.5"/>
<path class="o2" d="M784.8,896.5 L672.4,896.5 C674,899 673,902 671,906 C669.5,909 669,912 669.1,914.5 L784.8,914.5"/>
<path class="o2" d="M785,893.4 L823,891.2 L823,919.2 L785,917.7 Z"/>
<line class="o2" x1="824.8" y1="891.2" x2="824.8" y2="919.2"/>
<line class="d" x1="489.5" y1="891.5" x2="513.8" y2="891.5"/>
<line class="d" x1="489.5" y1="919.2" x2="513.8" y2="919.2"/>
<line class="d" x1="490.8" y1="891.5" x2="490.8" y2="919.2"/>
<path class="a" d="M490.8,891.5 L492.95,902.5 Q490.8,901.18 488.65,902.5 Z"/>
<path class="a" d="M490.8,919.2 L488.65,908.2 Q490.8,909.52 492.95,908.2 Z"/>
<text transform="translate(487.6,906) rotate(-90)" x="0" y="0" text-anchor="middle">G 1/2"</text>
<line class="d" x1="824.8" y1="891.2" x2="877.2" y2="891.2"/>
<line class="d" x1="824.8" y1="919.2" x2="877.2" y2="919.2"/>
<line class="d" x1="875.5" y1="810.8" x2="875.5" y2="919.2"/>
<path class="a" d="M875.5,891.2 L877.65,902.2 Q875.5,900.88 873.35,902.2 Z"/>
<path class="a" d="M875.5,919.2 L873.35,908.2 Q875.5,909.52 877.65,908.2 Z"/>
<text transform="translate(873.6,836) rotate(-90)" x="0" y="0" text-anchor="middle">G 1/2"</text>
</svg></body></html>
